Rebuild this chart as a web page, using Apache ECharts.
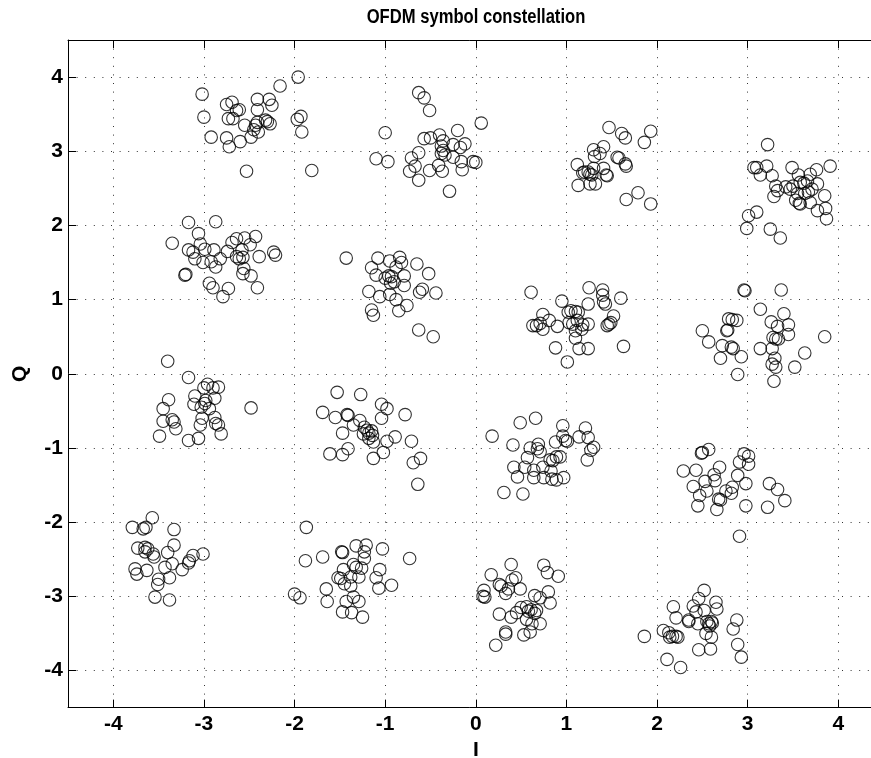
<!DOCTYPE html>
<html>
<head>
<meta charset="utf-8">
<title>OFDM symbol constellation</title>
<script src="https://cdn.jsdelivr.net/npm/echarts@6/dist/echarts.min.js"></script>
<style>
  html, body { margin: 0; padding: 0; background: #fff; }
  #chart { width: 871px; height: 758px; }
</style>
</head>
<body>
<div id="chart"></div>
<script>
// Received 16-QAM symbols [I, Q], grouped by nominal constellation point
var symbolsM3P3 = [[-1.96,4.00],[-2.16,3.88],[-3.02,3.77],[-2.75,3.63],[-2.69,3.66],[-2.61,3.56],[-2.64,3.55],[-2.41,3.70],[-2.41,3.56],[-2.28,3.70],[-2.25,3.62],[-3.00,3.46],[-2.73,3.44],[-2.68,3.44],[-2.55,3.35],[-2.43,3.35],[-2.41,3.39],[-2.32,3.42],[-2.30,3.40],[-2.27,3.37],[-1.97,3.43],[-1.93,3.47],[-1.92,3.26],[-2.92,3.19],[-2.75,3.18],[-2.72,3.06],[-2.60,3.13],[-2.48,3.19],[-2.40,3.26],[-2.45,3.29],[-2.53,2.73],[-1.81,2.74]];
var symbolsM3P1 = [[-3.17,2.04],[-2.87,2.05],[-3.06,1.89],[-3.35,1.76],[-3.04,1.75],[-3.17,1.67],[-3.12,1.64],[-2.99,1.68],[-2.89,1.67],[-3.10,1.55],[-3.01,1.50],[-2.92,1.51],[-2.82,1.55],[-2.74,1.65],[-2.69,1.77],[-2.64,1.82],[-2.55,1.83],[-2.43,1.85],[-2.49,1.74],[-2.58,1.67],[-2.64,1.58],[-2.61,1.55],[-2.57,1.57],[-2.39,1.58],[-2.23,1.64],[-2.21,1.60],[-2.87,1.44],[-2.56,1.42],[-3.21,1.33],[-3.20,1.34],[-2.94,1.22],[-2.90,1.16],[-2.79,1.04],[-2.73,1.15],[-2.57,1.35],[-2.48,1.32],[-2.41,1.16]];
var symbolsM3M1 = [[-3.40,0.17],[-3.17,-0.05],[-3.39,-0.35],[-3.45,-0.47],[-3.45,-0.64],[-3.35,-0.62],[-3.33,-0.65],[-3.31,-0.74],[-3.49,-0.84],[-3.17,-0.90],[-3.06,-0.87],[-3.04,-0.69],[-3.02,-0.60],[-3.10,-0.30],[-3.11,-0.41],[-3.00,-0.19],[-2.96,-0.14],[-2.90,-0.19],[-2.84,-0.18],[-2.88,-0.33],[-2.98,-0.36],[-2.99,-0.40],[-3.03,-0.45],[-2.94,-0.47],[-2.88,-0.59],[-2.87,-0.67],[-2.84,-0.69],[-2.81,-0.81],[-2.48,-0.46]];
var symbolsM3M3 = [[-3.57,-1.94],[-3.79,-2.07],[-3.67,-2.09],[-3.64,-2.07],[-3.33,-2.10],[-3.33,-2.31],[-3.73,-2.35],[-3.65,-2.34],[-3.62,-2.36],[-3.65,-2.40],[-3.56,-2.43],[-3.55,-2.47],[-3.40,-2.41],[-3.35,-2.56],[-3.43,-2.61],[-3.24,-2.64],[-3.17,-2.55],[-3.16,-2.52],[-3.12,-2.45],[-3.01,-2.43],[-3.76,-2.63],[-3.74,-2.70],[-3.63,-2.65],[-3.50,-2.77],[-3.51,-2.84],[-3.38,-2.75],[-3.54,-3.01],[-3.38,-3.05]];
var symbolsM1P3 = [[-0.63,3.79],[-0.57,3.72],[-0.51,3.55],[-1.00,3.25],[0.06,3.38],[-1.10,2.90],[-0.97,2.86],[-0.57,3.17],[-0.50,3.18],[-0.40,3.22],[-0.36,3.14],[-0.38,3.07],[-0.36,3.01],[-0.38,2.97],[-0.34,2.95],[-0.25,3.09],[-0.20,3.28],[-0.12,3.10],[-0.17,3.05],[-0.25,2.92],[-0.16,2.86],[-0.15,2.75],[-0.03,2.86],[0.00,2.85],[-0.71,2.91],[-0.63,2.98],[-0.67,2.80],[-0.73,2.73],[-0.63,2.61],[-0.51,2.74],[-0.41,2.81],[-0.37,2.73],[-0.29,2.46]];
var symbolsM1P1 = [[-1.43,1.56],[-1.08,1.56],[-0.95,1.52],[-0.84,1.57],[-0.82,1.50],[-0.65,1.48],[-1.15,1.43],[-0.88,1.44],[-1.10,1.33],[-1.00,1.29],[-0.96,1.32],[-0.93,1.31],[-0.90,1.24],[-0.94,1.22],[-0.79,1.32],[-0.79,1.19],[-0.52,1.35],[-0.62,1.10],[-0.59,1.14],[-0.44,1.09],[-1.18,1.11],[-1.06,1.04],[-0.95,1.07],[-0.88,1.00],[-0.85,0.85],[-0.76,0.92],[-1.15,0.86],[-1.13,0.79],[-0.63,0.59],[-0.47,0.50]];
var symbolsM1M1 = [[-1.53,-0.25],[-1.27,-0.28],[-1.55,-0.59],[-1.42,-0.55],[-1.41,-0.56],[-1.35,-0.69],[-1.28,-0.63],[-1.23,-0.72],[-1.20,-0.76],[-1.18,-0.80],[-1.15,-0.77],[-1.24,-0.81],[-1.14,-0.83],[-1.18,-0.87],[-1.13,-0.92],[-1.04,-0.41],[-0.98,-0.47],[-1.04,-0.60],[-0.89,-0.85],[-0.98,-0.91],[-0.78,-0.55],[-0.71,-0.91],[-1.47,-0.80],[-1.41,-1.01],[-1.47,-1.09],[-1.13,-1.14],[-1.02,-1.06],[-1.61,-1.08],[-0.69,-1.20],[-0.61,-1.14],[-0.64,-1.49],[-1.69,-0.52]];
var symbolsM1M3 = [[-1.87,-2.07],[-1.88,-2.52],[-1.69,-2.47],[-2.00,-2.97],[-1.94,-3.02],[-1.65,-2.90],[-1.64,-3.07],[-1.48,-2.40],[-1.47,-2.41],[-1.32,-2.32],[-1.21,-2.31],[-1.23,-2.40],[-1.23,-2.49],[-1.03,-2.36],[-0.73,-2.49],[-1.46,-2.64],[-1.35,-2.57],[-1.32,-2.61],[-1.26,-2.62],[-1.29,-2.74],[-1.38,-2.74],[-1.52,-2.75],[-1.49,-2.76],[-1.45,-2.83],[-1.38,-2.86],[-1.06,-2.64],[-1.10,-2.75],[-1.07,-2.89],[-0.93,-2.85],[-1.47,-3.21],[-1.37,-3.22],[-1.43,-3.07],[-1.35,-3.01],[-1.29,-3.07],[-1.25,-3.28]];
var symbolsP1P3 = [[1.47,3.32],[1.61,3.24],[1.65,3.18],[1.93,3.27],[1.86,3.12],[1.41,3.06],[1.30,3.02],[1.37,2.97],[1.31,2.93],[1.56,2.92],[1.58,2.91],[1.65,2.83],[1.66,2.80],[1.41,2.77],[1.44,2.68],[1.45,2.67],[1.30,2.77],[1.26,2.69],[1.28,2.68],[1.32,2.56],[1.26,2.56],[1.66,2.35],[1.79,2.44],[1.93,2.29],[1.12,2.82],[1.20,2.72],[1.18,2.71],[1.24,2.72],[1.13,2.54]];
var symbolsP1P1 = [[0.61,1.10],[0.95,0.98],[1.25,1.16],[1.24,0.94],[0.63,0.65],[0.67,0.65],[0.71,0.68],[0.74,0.80],[0.74,0.60],[0.81,0.72],[0.90,0.64],[1.02,0.83],[1.05,0.85],[1.10,0.84],[1.13,0.83],[1.03,0.69],[1.07,0.67],[1.12,0.72],[1.18,0.66],[1.24,0.67],[1.17,0.60],[1.10,0.58],[1.10,0.48],[1.14,0.34],[1.24,0.34],[0.88,0.35],[1.01,0.16],[1.40,1.13],[1.40,1.06],[1.41,0.97],[1.43,0.94],[1.60,1.02],[1.45,0.65],[1.49,0.69],[1.52,0.78],[1.47,0.67],[1.63,0.37]];
var symbolsP1M1 = [[0.18,-0.84],[0.49,-0.66],[0.66,-0.60],[0.41,-0.96],[0.60,-1.00],[0.69,-0.95],[0.68,-1.01],[0.71,-1.05],[0.57,-1.13],[0.42,-1.26],[0.54,-1.26],[0.64,-1.30],[0.74,-1.26],[0.64,-1.40],[0.46,-1.39],[0.75,-1.40],[0.82,-1.16],[0.85,-1.17],[0.89,-1.12],[0.93,-1.12],[0.83,-1.31],[0.84,-1.42],[0.89,-1.43],[0.88,-0.92],[0.96,-0.84],[0.96,-0.70],[1.01,-0.91],[0.99,-0.90],[1.14,-0.85],[1.21,-0.73],[1.24,-0.86],[1.30,-0.99],[1.27,-1.03],[1.23,-1.16],[0.97,-1.40],[0.31,-1.60],[0.52,-1.62]];
var symbolsP1M3 = [[0.17,-2.71],[0.39,-2.57],[0.26,-2.84],[0.28,-2.86],[0.33,-2.96],[0.36,-2.90],[0.40,-2.78],[0.44,-2.75],[0.49,-2.90],[0.09,-2.92],[0.08,-3.00],[0.10,-3.01],[0.75,-2.58],[0.79,-2.68],[0.91,-2.73],[0.80,-2.94],[0.65,-2.99],[0.71,-3.02],[0.82,-3.09],[0.26,-3.24],[0.39,-3.28],[0.45,-3.22],[0.50,-3.15],[0.56,-3.14],[0.58,-3.20],[0.61,-3.18],[0.65,-3.23],[0.67,-3.19],[0.56,-3.31],[0.62,-3.37],[0.71,-3.37],[0.33,-3.48],[0.33,-3.51],[0.53,-3.52],[0.60,-3.48],[0.22,-3.66]];
var symbolsP3P3 = [[3.22,3.09],[3.07,2.78],[3.10,2.78],[3.21,2.80],[3.14,2.68],[3.27,2.67],[3.31,2.53],[3.29,2.39],[3.33,2.47],[3.42,2.52],[3.49,2.78],[3.56,2.68],[3.58,2.58],[3.62,2.57],[3.66,2.60],[3.69,2.69],[3.76,2.75],[3.77,2.56],[3.71,2.49],[3.67,2.45],[3.63,2.43],[3.55,2.43],[3.53,2.34],[3.57,2.30],[3.58,2.29],[3.69,2.31],[3.85,2.40],[3.91,2.80],[3.86,2.23],[3.77,2.20],[3.87,2.09],[3.10,2.18],[3.01,2.13],[2.99,1.96],[3.25,1.95],[3.36,1.83],[3.47,2.49],[3.50,2.53]];
var symbolsP3P1 = [[2.96,1.13],[2.97,1.12],[3.37,1.13],[3.14,0.87],[3.40,0.81],[3.26,0.70],[3.33,0.64],[3.45,0.66],[3.45,0.53],[3.85,0.50],[3.28,0.49],[3.31,0.47],[3.34,0.47],[3.14,0.34],[3.27,0.34],[3.30,0.21],[3.27,0.13],[3.31,0.09],[3.63,0.28],[3.52,0.09],[3.29,-0.10],[2.79,0.74],[2.83,0.73],[2.88,0.72],[2.50,0.58],[2.57,0.43],[2.77,0.58],[2.78,0.59],[2.72,0.38],[2.82,0.36],[2.84,0.34],[2.70,0.21],[2.93,0.23],[2.89,-0.01]];
var symbolsP3M1 = [[2.49,-1.07],[2.50,-1.06],[2.57,-1.02],[2.29,-1.31],[2.43,-1.30],[2.63,-1.36],[2.69,-1.26],[2.91,-1.19],[2.96,-1.08],[3.01,-1.11],[3.01,-1.22],[2.89,-1.37],[2.53,-1.45],[2.64,-1.44],[2.40,-1.52],[2.98,-1.48],[3.24,-1.48],[3.33,-1.56],[2.83,-1.53],[2.82,-1.61],[2.76,-1.58],[2.47,-1.64],[2.45,-1.78],[2.55,-1.58],[2.66,-1.83],[2.68,-1.69],[2.70,-1.70],[2.98,-1.78],[3.41,-1.71],[3.22,-1.80],[2.91,-2.19]];
var symbolsP3M3 = [[2.52,-2.92],[2.46,-3.03],[2.18,-3.14],[2.21,-3.29],[2.40,-3.13],[2.43,-3.21],[2.52,-3.19],[2.65,-3.08],[2.66,-3.17],[2.35,-3.34],[2.35,-3.32],[2.45,-3.37],[2.55,-3.34],[2.57,-3.37],[2.60,-3.34],[2.61,-3.36],[2.58,-3.40],[2.54,-3.50],[2.60,-3.55],[2.88,-3.32],[2.84,-3.44],[2.89,-3.65],[2.93,-3.82],[2.07,-3.46],[2.13,-3.49],[2.14,-3.55],[2.17,-3.54],[2.21,-3.54],[2.23,-3.55],[1.86,-3.54],[2.46,-3.72],[2.59,-3.71],[2.11,-3.85],[2.26,-3.96]];

// Axis settings
var axisMin = -4.5;
var axisMax = 4.5;
var chartTitle = 'OFDM symbol constellation';
var xName = 'I';
var yName = 'Q';

var allSymbols = [].concat(
  symbolsM3P3, symbolsM3P1, symbolsM3M1, symbolsM3M3,
  symbolsM1P3, symbolsM1P1, symbolsM1M1, symbolsM1M3,
  symbolsP1P3, symbolsP1P1, symbolsP1M1, symbolsP1M3,
  symbolsP3P3, symbolsP3P1, symbolsP3M1, symbolsP3M3
);

var labelFont = { fontFamily: '"Liberation Sans", Arial, sans-serif', fontWeight: 'bold', fontSize: 21, color: '#000' };

function intLabel(v) {
  return Math.abs(v - Math.round(v)) < 1e-6 ? String(Math.round(v)) : '';
}

function frameAxis(extra) {
  return Object.assign({
    type: 'value',
    min: axisMin,
    max: axisMax,
    minInterval: 1,
    maxInterval: 1,
    axisLine: { show: true, onZero: false, lineStyle: { color: '#000', width: 1 } },
    axisTick: { show: true, inside: true, length: 8, lineStyle: { color: '#000', width: 1 } },
    splitLine: { show: false },
    axisLabel: { show: false }
  }, extra);
}

var gridLine = { show: true, lineStyle: { color: '#333', width: 1, type: [1, 7.6] } };

var chart = echarts.init(document.getElementById('chart'), null, { renderer: 'canvas' });
chart.setOption({
  animation: false,
  backgroundColor: '#fff',
  graphic: [{
    type: 'text',
    x: 476,
    y: 17,
    scaleX: 0.83,
    style: {
      text: chartTitle,
      font: 'bold 20px "Liberation Sans", Arial, sans-serif',
      fill: '#000',
      textAlign: 'center',
      textVerticalAlign: 'middle'
    }
  }],
  grid: { left: 68, top: 40, width: 815.6, height: 667.6, outerBoundsMode: 'none', containLabel: false },
  xAxis: [
    frameAxis({
      position: 'bottom',
      splitLine: gridLine,
      axisLabel: Object.assign({ show: true, margin: 6, formatter: intLabel, showMinLabel: false, showMaxLabel: false }, labelFont),
      name: xName,
      nameLocation: 'middle',
      nameGap: 21,
      nameTextStyle: labelFont
    }),
    frameAxis({ position: 'top' })
  ],
  yAxis: [
    frameAxis({
      position: 'left',
      splitLine: gridLine,
      axisLabel: Object.assign({ show: true, margin: 5, formatter: intLabel, showMinLabel: false, showMaxLabel: false }, labelFont),
      name: yName,
      nameLocation: 'middle',
      nameGap: 37,
      nameRotate: 90,
      nameTextStyle: labelFont
    }),
    frameAxis({ position: 'right' })
  ],
  series: [{
    type: 'scatter',
    xAxisIndex: 0,
    yAxisIndex: 0,
    data: allSymbols,
    symbol: 'circle',
    symbolSize: 12.5,
    itemStyle: { color: 'rgba(0,0,0,0)', borderColor: '#000', borderWidth: 1.1 },
    emphasis: { disabled: true }
  }]
});
</script>
</body>
</html>
